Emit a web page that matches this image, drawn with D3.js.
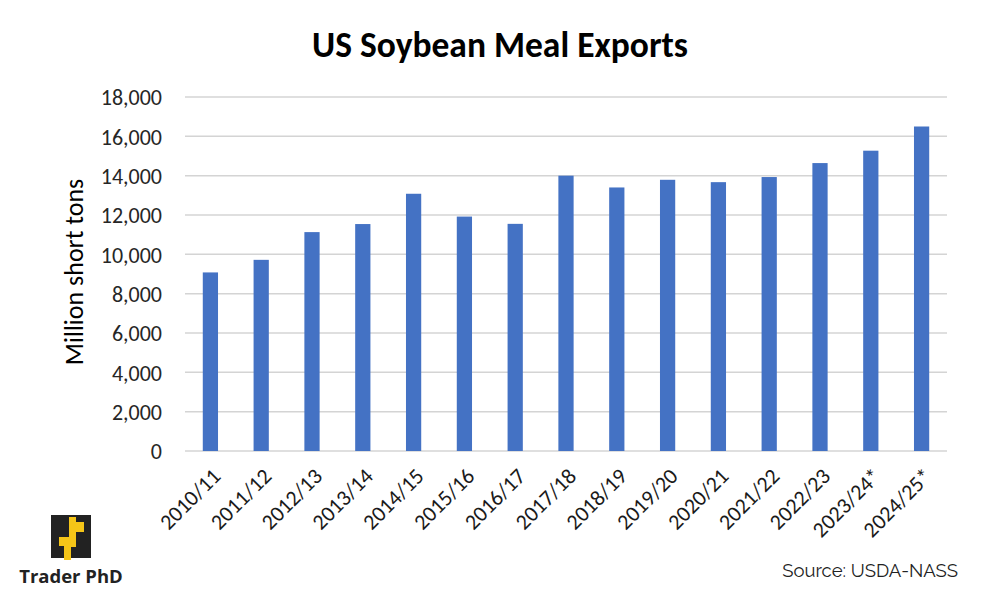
<!DOCTYPE html>
<html>
<head>
<meta charset="utf-8">
<script src="https://cdn.jsdelivr.net/npm/d3@7"></script>
<style>
  body { margin: 0; background: #fff; }
  svg { display: block; }
</style>
</head>
<body>
<div id="chart"></div>
<script>
// ========== DATA ==========
const seasons = ['2010/11','2011/12','2012/13','2013/14','2014/15','2015/16','2016/17','2017/18',
                 '2018/19','2019/20','2020/21','2021/22','2022/23','2023/24*','2024/25*'];
const exportsTons = [9080, 9720, 11130, 11540, 13080, 11920, 11550, 14000,
                     13400, 13790, 13670, 13930, 14640, 15270, 16500];
const yTicks = [0, 2000, 4000, 6000, 8000, 10000, 12000, 14000, 16000, 18000];

const width = 1000, height = 600;
const margin = { top: 97, right: 53, bottom: 149, left: 185 };
const font = 'Carlito, Calibri, Lato, sans-serif';

const svg = d3.select('#chart').append('svg')
    .attr('width', width)
    .attr('height', height);

const x = d3.scaleBand()
    .domain(seasons)
    .range([margin.left, width - margin.right])
    .paddingInner(0.7)
    .paddingOuter(0.35);

const y = d3.scaleLinear()
    .domain([0, 18000])
    .range([height - margin.bottom, margin.top]);

// gridlines
svg.append('g')
    .selectAll('line')
    .data(yTicks)
    .enter().append('line')
    .attr('x1', margin.left)
    .attr('x2', width - margin.right)
    .attr('y1', d => y(d))
    .attr('y2', d => y(d))
    .attr('stroke', '#d4d4d4')
    .attr('stroke-width', 1.5);

// bars
svg.append('g')
    .selectAll('rect')
    .data(seasons)
    .enter().append('rect')
    .attr('x', d => x(d))
    .attr('width', x.bandwidth())
    .attr('y', (d, i) => y(exportsTons[i]))
    .attr('height', (d, i) => y(0) - y(exportsTons[i]))
    .attr('fill', '#4472c4');

// y axis
const yAxis = svg.append('g')
    .attr('transform', `translate(${margin.left - 20},0)`)
    .call(d3.axisLeft(y).tickValues(yTicks).tickFormat(d3.format(',')).tickSize(0));
yAxis.select('.domain').remove();
yAxis.selectAll('text')
    .attr('font-family', font)
    .attr('font-size', 22)
    .attr('fill', '#262626')
    .attr('dy', '0.35em');

// x axis
const xAxis = svg.append('g')
    .attr('transform', `translate(0,${y(0)})`)
    .call(d3.axisBottom(x).tickSize(0));
xAxis.select('.domain').remove();
xAxis.selectAll('text')
    .attr('font-family', font)
    .attr('font-size', 22)
    .attr('fill', '#1a1a1a')
    .attr('text-anchor', 'end')
    .attr('transform', 'translate(4,19) rotate(-45)')
    .attr('dy', '0.35em');

// title
svg.append('text')
    .attr('x', 500)
    .attr('y', 57)
    .attr('text-anchor', 'middle')
    .attr('font-family', font)
    .attr('font-weight', 'bold')
    .attr('font-size', 35.5)
    .attr('fill', '#000')
    .text('US Soybean Meal Exports');

// y label
svg.append('text')
    .attr('transform', 'translate(83,272) rotate(-90)')
    .attr('text-anchor', 'middle')
    .attr('font-family', font)
    .attr('font-size', 26)
    .attr('fill', '#000')
    .text('Million short tons');

// source
svg.append('text')
    .attr('x', 958)
    .attr('y', 577)
    .attr('text-anchor', 'end')
    .attr('font-family', 'Raleway, "Open Sans", sans-serif')
    .attr('font-size', 18.5)
    .attr('fill', '#222')
    .text('Source: USDA-NASS');

// logo
const logo = svg.append('g');
logo.append('rect')
    .attr('x', 51).attr('y', 515).attr('width', 40).attr('height', 43)
    .attr('fill', '#222');
logo.append('path')
    .attr('d', 'M69,517 L76,517 L76,522 L84,522 L84,532 L76,532 L76,547 L71,547 L71,560 L64,560 L64,546 L59,546 L59,537 L69,537 Z')
    .attr('fill', '#f5c518');
logo.append('text')
    .attr('x', 71)
    .attr('y', 583)
    .attr('text-anchor', 'middle')
    .attr('font-family', '"Open Sans", sans-serif')
    .attr('font-weight', 'bold')
    .attr('font-size', 18.5)
    .attr('fill', '#222')
    .text('Trader PhD');
</script>
</body>
</html>
